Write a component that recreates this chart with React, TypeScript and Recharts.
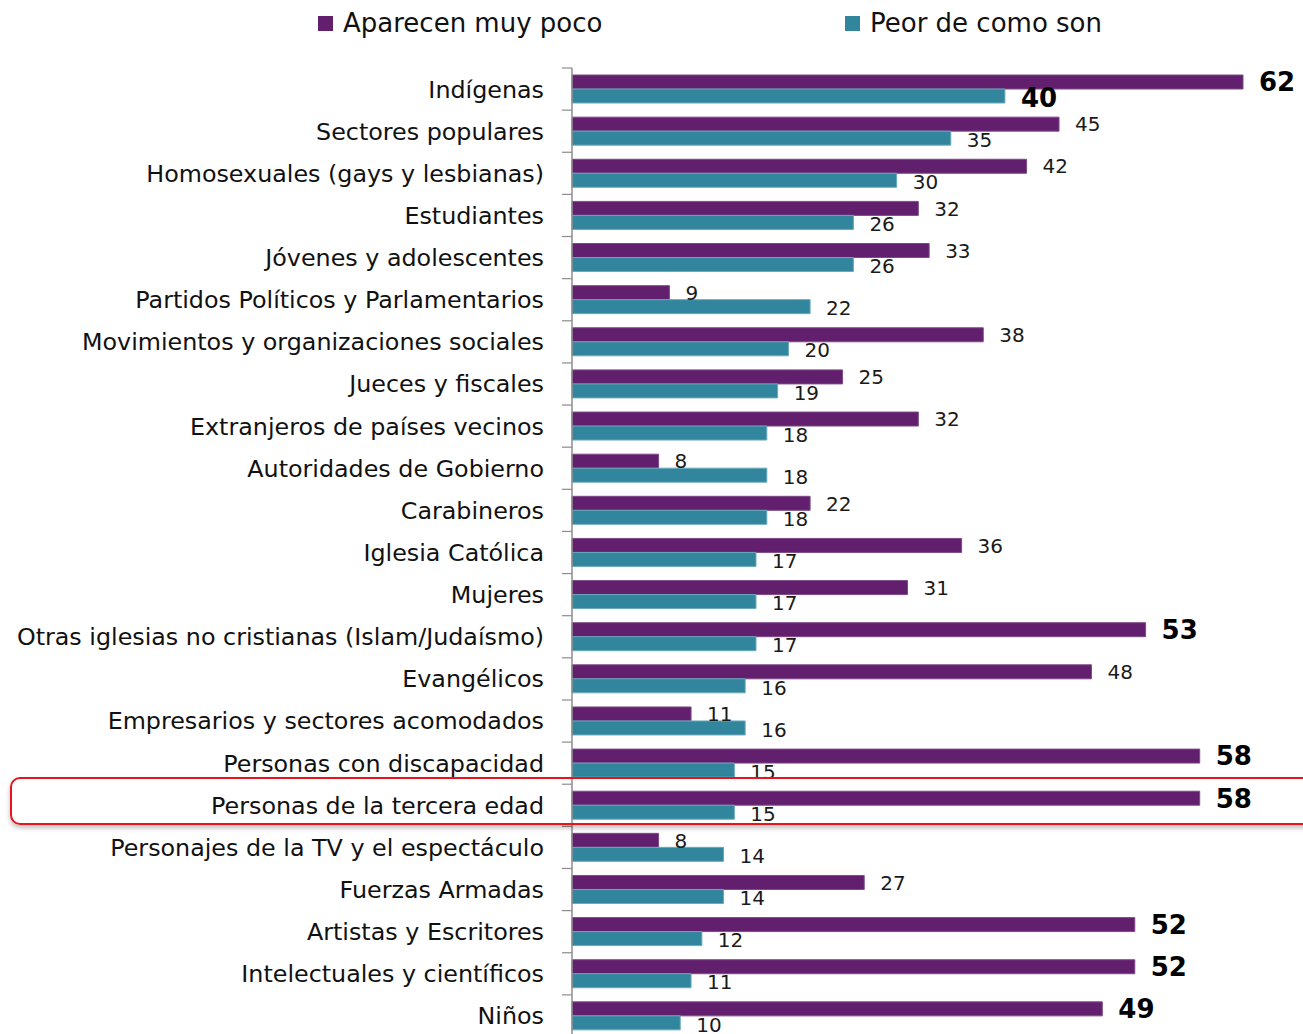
import React from "react";
import { BarChart, Bar, XAxis, YAxis, LabelList } from "recharts";

const categories = [
  "Indígenas",
  "Sectores populares",
  "Homosexuales (gays y lesbianas)",
  "Estudiantes",
  "Jóvenes y adolescentes",
  "Partidos Políticos y Parlamentarios",
  "Movimientos y organizaciones sociales",
  "Jueces y fiscales",
  "Extranjeros de países vecinos",
  "Autoridades de Gobierno",
  "Carabineros",
  "Iglesia Católica",
  "Mujeres",
  "Otras iglesias no cristianas (Islam/Judaísmo)",
  "Evangélicos",
  "Empresarios y sectores acomodados",
  "Personas con discapacidad",
  "Personas de la tercera edad",
  "Personajes de la TV y el espectáculo",
  "Fuerzas Armadas",
  "Artistas y Escritores",
  "Intelectuales y científicos",
  "Niños",
];

const aparecenMuyPoco = [62, 45, 42, 32, 33, 9, 38, 25, 32, 8, 22, 36, 31, 53, 48, 11, 58, 58, 8, 27, 52, 52, 49];
const peorDeComoSon = [40, 35, 30, 26, 26, 22, 20, 19, 18, 18, 18, 17, 17, 17, 16, 16, 15, 15, 14, 14, 12, 11, 10];

const seriesNames = ["Aparecen muy poco", "Peor de como son"];
const boldThreshold = [49, 40];

const PURPLE = "#621F6E";
const TEAL = "#31859C";
const FONT = "'DejaVu Sans', Verdana, sans-serif";

const data = categories.map((name, i) => ({
  name,
  a: aparecenMuyPoco[i],
  p: peorDeComoSon[i],
}));

const WIDTH = 1303;
const HEIGHT = 1040;
const MARGIN = { top: 68, right: 60, bottom: 3, left: 0 };
const BAND = (HEIGHT - MARGIN.top - MARGIN.bottom) / categories.length;

const CategoryTick = (props: any) => {
  const { x, y, payload, index } = props;
  return (
    <g>
      <text
        x={x}
        y={y}
        dy="0.355em"
        textAnchor="end"
        fontFamily={FONT}
        fontSize={23.8}
        fill="#111"
      >
        {payload.value}
      </text>
      <line x1={x + 18} x2={x + 28} y1={y - BAND / 2} y2={y - BAND / 2} stroke="#8c8c8c" strokeWidth={1.2} />
      {index === categories.length - 1 ? (
        <line x1={x + 18} x2={x + 28} y1={y + BAND / 2} y2={y + BAND / 2} stroke="#8c8c8c" strokeWidth={1.2} />
      ) : null}
    </g>
  );
};

const makeLabel = (threshold: number, dyExtra: number) => (props: any) => {
  const { x, y, width, height, value } = props;
  const bold = value >= threshold;
  return (
    <text
      x={x + width + 16}
      y={y + height / 2 + dyExtra}
      dy="0.36em"
      textAnchor="start"
      fontFamily={FONT}
      fontSize={bold ? 26 : 20}
      fontWeight={bold ? "bold" : "normal"}
      fill={bold ? "#000" : "#1a1a1a"}
    >
      {value}
    </text>
  );
};

const LegendBlock = () => {
  const colors = [PURPLE, TEAL];
  const lefts = [318, 845];
  return (
    <div style={{ position: "absolute", left: 0, top: 0, width: WIDTH, height: 50 }}>
      {seriesNames.map((n, i) => (
        <div
          key={n}
          style={{
            position: "absolute",
            left: lefts[i],
            top: 8,
            display: "flex",
            alignItems: "center",
            fontFamily: FONT,
            fontSize: 26,
            color: "#111",
            whiteSpace: "nowrap",
          }}
        >
          <span style={{ display: "inline-block", width: 15, height: 15, background: colors[i], marginRight: 10 }} />
          <span>{n}</span>
        </div>
      ))}
    </div>
  );
};

export default function App() {
  return (
    <div
      style={{
        position: "absolute",
        left: 0,
        top: 0,
        width: WIDTH,
        height: 1034,
        overflow: "hidden",
        background: "#fff",
      }}
    >
      <BarChart
        width={WIDTH}
        height={HEIGHT}
        data={data}
        layout="vertical"
        margin={MARGIN}
        barGap={0}
        barSize={14}
      >
        <XAxis type="number" domain={[0, 62]} hide />
        <YAxis
          type="category"
          dataKey="name"
          width={572}
          tickLine={false}
          tickSize={0}
          tickMargin={28}
          axisLine={{ stroke: "#8c8c8c", strokeWidth: 1.5 }}
          tick={<CategoryTick />}
          interval={0}
        />
        <Bar dataKey="a" name={seriesNames[0]} fill={PURPLE} stroke="#7e4a88" strokeWidth={1} isAnimationActive={false}>
          <LabelList dataKey="a" content={makeLabel(boldThreshold[0], 0)} />
        </Bar>
        <Bar dataKey="p" name={seriesNames[1]} fill={TEAL} stroke="#6aa9bb" strokeWidth={1} isAnimationActive={false}>
          <LabelList dataKey="p" content={makeLabel(boldThreshold[1], 1.5)} />
        </Bar>
      </BarChart>
      <LegendBlock />
      <div
        style={{
          position: "absolute",
          left: 10,
          top: 777,
          width: 1320,
          height: 44,
          border: "2px solid #e8141c",
          borderRadius: 10,
          boxShadow: "0 3px 5px rgba(0,0,0,0.25)",
          pointerEvents: "none",
        }}
      />
    </div>
  );
}
